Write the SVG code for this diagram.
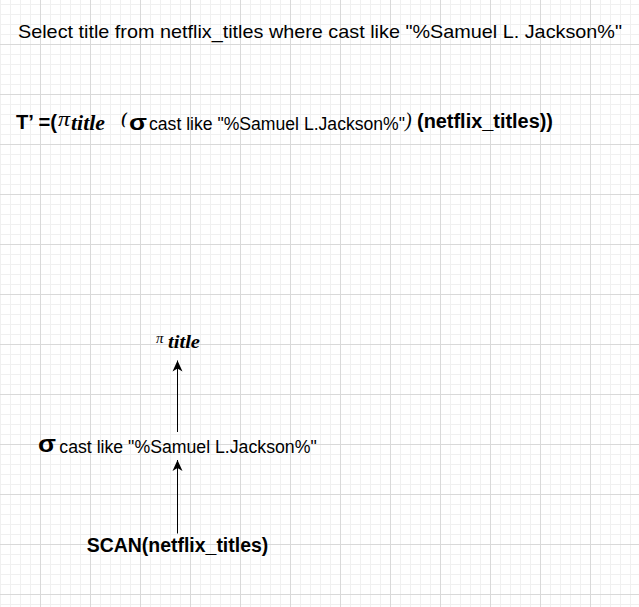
<svg xmlns="http://www.w3.org/2000/svg" width="639" height="607" viewBox="0 0 639 607">
  <defs>
    <pattern id="grid" patternUnits="userSpaceOnUse" x="40" y="44" width="50" height="50">
      <rect x="10" y="0" width="1" height="50" fill="#f0f0f0"/>
      <rect x="20" y="0" width="1" height="50" fill="#f0f0f0"/>
      <rect x="30" y="0" width="1" height="50" fill="#f0f0f0"/>
      <rect x="40" y="0" width="1" height="50" fill="#f0f0f0"/>
      <rect x="0" y="10" width="50" height="1" fill="#f0f0f0"/>
      <rect x="0" y="20" width="50" height="1" fill="#f0f0f0"/>
      <rect x="0" y="30" width="50" height="1" fill="#f0f0f0"/>
      <rect x="0" y="40" width="50" height="1" fill="#f0f0f0"/>
      <rect x="0" y="0" width="1" height="50" fill="#d9d9d9"/>
      <rect x="0" y="0" width="50" height="1" fill="#d9d9d9"/>
    </pattern>
    <marker id="arrow" viewBox="-12 -6 13 12" refX="0" refY="0" markerWidth="13" markerHeight="12" markerUnits="userSpaceOnUse" orient="auto">
      <path d="M0,0 L-11,-5 L-8,0 L-11,5 Z" fill="#000"/>
    </marker>
  </defs>
  <style>
    .sans { font-family: "Liberation Sans", Arial, sans-serif; fill: #000; }
    .reg { font-size: 19px; }
    .bold { font-size: 19.5px; font-weight: bold; }
    .cond { font-size: 17.5px; }
    .serif { font-family: "Liberation Serif", "Times New Roman", serif; fill: #000; font-style: italic; }
    .sigma { font-family: "Liberation Sans", Arial, sans-serif; font-weight: bold; fill: #000; }
    .edge { stroke: #000; stroke-width: 1; fill: none; }
  </style>
  <rect x="0" y="0" width="639" height="607" fill="#ffffff"/>
  <rect x="0" y="0" width="639" height="607" fill="url(#grid)"/>

  <g id="query">
    <text class="sans reg" x="18" y="38" textLength="604" lengthAdjust="spacingAndGlyphs">Select title from netflix_titles where cast like "%Samuel L. Jackson%"</text>
  </g>

  <g id="formula">
    <text class="sans bold" x="16" y="129" textLength="41" lengthAdjust="spacingAndGlyphs">T’ =(</text>
    <text class="serif" x="58" y="126" font-size="21" textLength="12" lengthAdjust="spacingAndGlyphs">π</text>
    <text class="serif" x="71" y="130" font-size="21" font-weight="bold" textLength="34" lengthAdjust="spacingAndGlyphs">title</text>
    <text class="serif" x="121" y="124" font-size="16" font-weight="bold">(</text>
    <text class="sigma" x="129" y="130" font-size="22" textLength="18" lengthAdjust="spacingAndGlyphs">σ</text>
    <text class="sans cond" x="149" y="130" textLength="256" lengthAdjust="spacingAndGlyphs">cast like "%Samuel L.Jackson%"</text>
    <text class="serif" x="405" y="127" font-size="20">)</text>
    <text class="sans bold" x="417" y="128" textLength="136" lengthAdjust="spacingAndGlyphs">(netflix_titles))</text>
  </g>

  <g id="node-project">
    <text class="serif" x="156" y="343" font-size="14" textLength="7.5" lengthAdjust="spacingAndGlyphs">π</text>
    <text class="serif" x="168" y="348" font-size="18" font-weight="bold" textLength="32" lengthAdjust="spacingAndGlyphs">title</text>
  </g>

  <g id="node-select">
    <text class="sigma" x="38" y="452" font-size="23" textLength="18" lengthAdjust="spacingAndGlyphs">σ</text>
    <text class="sans cond" x="59.3" y="453.3" textLength="257.4" lengthAdjust="spacingAndGlyphs">cast like "%Samuel L.Jackson%"</text>
  </g>

  <g id="node-scan">
    <text class="sans bold" x="86.7" y="551.7" textLength="181.6" lengthAdjust="spacingAndGlyphs">SCAN(netflix_titles)</text>
  </g>

  <g id="connectors">
    <line class="edge" x1="177.5" y1="432" x2="177.5" y2="360.5" marker-end="url(#arrow)"/>
    <line class="edge" x1="177.5" y1="533.5" x2="177.5" y2="460" marker-end="url(#arrow)"/>
  </g>
</svg>
